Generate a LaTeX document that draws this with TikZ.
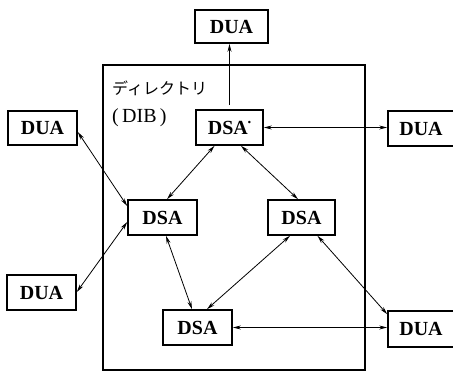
\documentclass[tikz,border=0pt]{standalone}
\usepackage{fontspec}
\setmainfont{Liberation Serif}
\newfontfamily\jpfont{Noto Sans CJK JP}
\usetikzlibrary{arrows.meta}
\begin{document}
\begin{tikzpicture}[x=1pt,y=-1pt,
  unitbox/.style={draw,line width=1.6pt,inner sep=0pt,font=\fontsize{20}{22}\selectfont\bfseries},
  link/.style={line width=0.8pt,{Stealth[length=8pt,width=4pt]}-{Stealth[length=8pt,width=4pt]}},
  onelink/.style={line width=0.8pt,-{Stealth[length=8pt,width=4pt]}}]
\useasboundingbox (0,0) rectangle (453,372);
\draw[line width=1.2pt] (103,65) rectangle (365,370);
\node[anchor=base west,inner sep=0pt,font=\jpfont\fontsize{16}{18}\selectfont] (jp) at (112,94) {ディレクトリ};
\node[anchor=base west,inner sep=0pt,font=\fontsize{20}{22}\selectfont] (dib) at (112,122) {(\,DIB\,)};
\node[unitbox,minimum width=73pt,minimum height=33pt] (tdua) at (231.5,26.5) {DUA};
\node[unitbox,minimum width=67pt,minimum height=35pt] (tdsa) at (229.5,127.5) {DSA\raisebox{9pt}{\scalebox{0.45}{\textbullet}}};
\node[unitbox,minimum width=69pt,minimum height=34pt] (lu1) at (42.5,128) {DUA};
\node[unitbox,minimum width=66pt,minimum height=35pt] (ru1) at (421,128.5) {DUA};
\node[unitbox,minimum width=69pt,minimum height=35pt] (ml) at (162.5,217.5) {DSA};
\node[unitbox,minimum width=67pt,minimum height=35pt] (mr) at (301.5,217.5) {DSA};
\node[unitbox,minimum width=69pt,minimum height=35pt] (ld2) at (41.5,292.5) {DUA};
\node[unitbox,minimum width=69pt,minimum height=35pt] (b) at (197.5,327.5) {DSA};
\node[unitbox,minimum width=66pt,minimum height=36pt] (rd2) at (421,329) {DUA};
\draw[onelink,shorten <=4pt] (tdsa.north) -- (tdsa.north |- tdua.south);
\draw[link] (tdsa.east) -- (tdsa.east -| ru1.west);
\draw[link] ([xshift=-15pt]tdsa.south) -- ([xshift=4.5pt]ml.north);
\draw[link] ([xshift=11.5pt]tdsa.south) -- ([xshift=-3.5pt]mr.north);
\draw[link] ([yshift=-4pt]lu1.east) -- ([yshift=11.5pt]ml.west);
\draw[link] ([yshift=0.5pt]ld2.east) -- ([yshift=-4.5pt]ml.west);
\draw[link] ([xshift=3.5pt]ml.south) -- ([xshift=-5.5pt]b.north);
\draw[link] ([xshift=-11.5pt]mr.south) -- ([xshift=9.5pt]b.north);
\draw[link] ([xshift=16pt]mr.south) -- ([yshift=-4pt]rd2.north west);
\draw[link] (b.east) -- (b.east -| rd2.west);
\end{tikzpicture}
\end{document}
